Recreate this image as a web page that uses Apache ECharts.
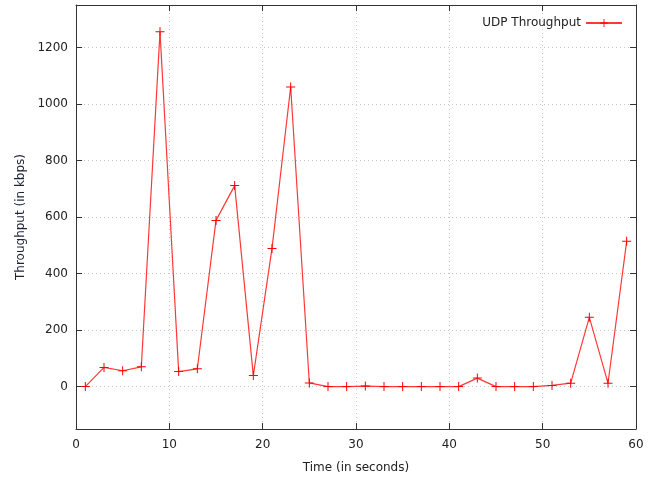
<!DOCTYPE html>
<html>
<head>
<meta charset="utf-8">
<script src="https://cdn.jsdelivr.net/npm/echarts@6/dist/echarts.min.js"></script>
<style>
  html, body { margin: 0; padding: 0; background: #fff; }
  #chart { width: 660px; height: 479px; }
</style>
</head>
<body>
<div id="chart"></div>
<script>
  // 时间（秒）与吞吐量（kbps）
  const timeSec = [1, 3, 5, 7, 9, 11, 13, 15, 17, 19, 21, 23, 25, 27, 29,
    31, 33, 35, 37, 39, 41, 43, 45, 47, 49, 51, 53, 55, 57, 59];
  const udpThroughput = [0, 68, 56, 70, 1255, 53, 63, 588, 711, 39, 489, 1060, 13, 0, 0,
    2, 0, 0, 0, 0, 0, 30, 0, 0, 0, 4, 12, 245, 12, 514];
  const yTicks = [0, 200, 400, 600, 800, 1000, 1200];

  const plus = 'path://M4,0H5V4H9V5H5V9H4V5H0V4H4Z';
  const font = 'DejaVu Sans';
  const txt = '#222';

  const chart = echarts.init(document.getElementById('chart'));

  const axisLine = { show: true, onZero: false, lineStyle: { color: '#333', width: 1 } };
  const grid = { type: [1, 3], color: '#c8c8c8', width: 1 };
  const tick = { inside: true, length: 6, lineStyle: { color: '#333' } };

  chart.setOption({
    animation: false,
    textStyle: { fontFamily: font },
    grid: { left: 76, right: 24, top: 5, bottom: 50 },
    legend: {
      right: 32, top: 12,
      align: 'right',
      itemWidth: 36, itemHeight: 10,
      itemGap: 10,
      textStyle: { color: txt, fontSize: 12, fontFamily: font },
      data: ['UDP Throughput']
    },
    xAxis: [{
      type: 'value', min: 0, max: 60, interval: 10,
      name: 'Time (in seconds)', nameLocation: 'middle', nameGap: 33,
      nameTextStyle: { color: txt, fontSize: 12, fontFamily: font },
      axisLine: axisLine,
      axisTick: tick,
      axisLabel: { color: txt, fontSize: 12, margin: 10, fontFamily: font },
      splitLine: { show: true, lineStyle: grid }
    }, {
      type: 'value', min: 0, max: 60, interval: 10, position: 'top',
      axisLine: axisLine,
      axisTick: tick,
      axisLabel: { show: false },
      splitLine: { show: false }
    }],
    yAxis: [{
      type: 'value', min: -150, max: 1350,
      name: 'Throughput (in kbps)', nameLocation: 'middle', nameGap: 48,
      nameTextStyle: { color: '#1c2438', fontSize: 12, fontFamily: font },
      axisLine: axisLine,
      axisTick: Object.assign({ customValues: yTicks }, tick),
      axisLabel: {
        color: txt, fontSize: 12, margin: 8, customValues: yTicks, fontFamily: font,
        formatter: v => String(v)
      },
      splitLine: { show: true, lineStyle: grid }
    }, {
      type: 'value', min: -150, max: 1350, position: 'right',
      axisLine: axisLine,
      axisTick: Object.assign({ customValues: yTicks }, tick),
      axisLabel: { show: false, customValues: yTicks },
      splitLine: { show: false }
    }],
    series: [{
      name: 'UDP Throughput',
      type: 'line',
      data: timeSec.map((t, i) => [t, udpThroughput[i]]),
      symbol: plus,
      symbolSize: 9,
      showAllSymbol: true,
      lineStyle: { color: '#ff3838', width: 1.2 },
      itemStyle: { color: '#ff0000' }
    }]
  });

  window.onresize = function () {
    chart.resize()
  }
</script>
</body>
</html>
